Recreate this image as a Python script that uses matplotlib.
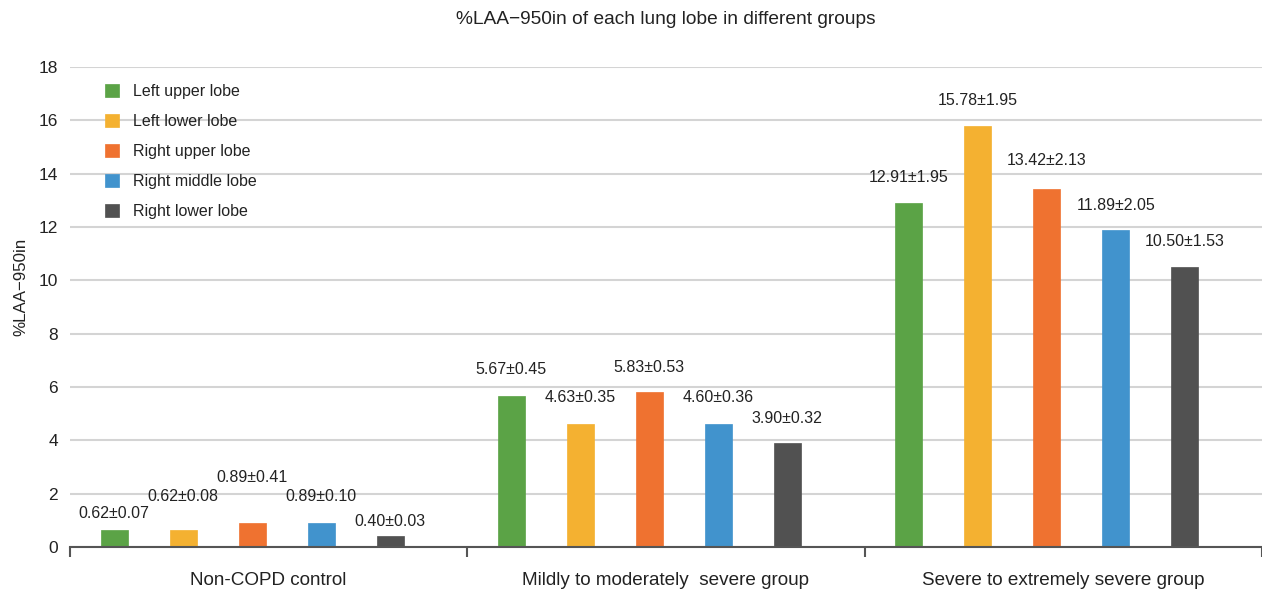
import matplotlib
matplotlib.use("Agg")
import matplotlib.pyplot as plt
import numpy as np

plt.rcParams['font.family'] = ['Liberation Sans', 'DejaVu Sans']

groups = ["Non-COPD control", "Mildly to moderately  severe group", "Severe to extremely severe group"]
lobes = ["Left upper lobe", "Left lower lobe", "Right upper lobe", "Right middle lobe", "Right lower lobe"]
colors = ["#5ba346", "#f4b131", "#ef7230", "#4193cd", "#515151"]

means = {
    "Left upper lobe":   [0.62, 5.67, 12.91],
    "Left lower lobe":   [0.62, 4.63, 15.78],
    "Right upper lobe":  [0.89, 5.83, 13.42],
    "Right middle lobe": [0.89, 4.60, 11.89],
    "Right lower lobe":  [0.40, 3.90, 10.50],
}
sds = {
    "Left upper lobe":   [0.07, 0.45, 1.95],
    "Left lower lobe":   [0.08, 0.35, 1.95],
    "Right upper lobe":  [0.41, 0.53, 2.13],
    "Right middle lobe": [0.10, 0.36, 2.05],
    "Right lower lobe":  [0.03, 0.32, 1.53],
}
# label vertical placement (data units, as in the reference)
label_y = {
    "Left upper lobe":   [1.27, 6.67, 13.86],
    "Left lower lobe":   [1.91, 5.59, 16.74],
    "Right upper lobe":  [2.62, 6.73, 14.49],
    "Right middle lobe": [1.91, 5.59, 12.80],
    "Right lower lobe":  [0.97, 4.82, 11.47],
}
yticks = [0, 2, 4, 6, 8, 10, 12, 14, 16, 18]

W, H = 1262, 592
fig = plt.figure(figsize=(W / 100, H / 100), dpi=100)
ax = fig.add_axes([70 / W, (H - 547) / H, (1262 - 70) / W, (547 - 67) / H])

first = 44 / 397.3
step = 69 / 397.3
bw = 27 / 397.3

for j, lobe in enumerate(lobes):
    xs = np.arange(len(groups)) + first + j * step
    ax.bar(xs, means[lobe], width=bw, color=colors[j], label=lobe, zorder=3,
           edgecolor=colors[j], linewidth=0.5)
    for x, m, s, ly in zip(xs, means[lobe], sds[lobe], label_y[lobe]):
        ax.text(x, ly, f"{m:.2f}±{s:.2f}", ha="center", va="center",
                fontsize=11.5, color="#222222", zorder=4)

ax.set_xlim(0, 3)
ax.set_ylim(0, 18)
ax.set_yticks(yticks)
ax.yaxis.grid(True, color="#d4d4d4", linewidth=1.5, zorder=0)
ax.set_axisbelow(True)
for s in ["left", "right", "top"]:
    ax.spines[s].set_visible(False)
ax.spines["bottom"].set_color("#555555")
ax.spines["bottom"].set_linewidth(1.5)
ax.spines["bottom"].set_zorder(5)

ax.tick_params(axis="y", length=0, pad=8.6, labelsize=12.5, labelcolor="#222222")
ax.set_xticks([0, 1, 2, 3])
ax.set_xticklabels([])
ax.tick_params(axis="x", which="major", length=7, width=1.5, color="#555555")
ax.set_xticks([0.5, 1.5, 2.5], minor=True)
ax.set_xticklabels(groups, minor=True)
ax.tick_params(axis="x", which="minor", length=0, pad=18, labelsize=13.6, labelcolor="#222222")

ax.set_ylabel("%LAA\u2212950in", fontsize=12.2, color="#222222")
ax.yaxis.set_label_coords(-42 / 1192, (547 - 287) / 480)
fig.text((70 + 1262) / 2 / W, 1 - 19 / H, "%LAA\u2212950in of each lung lobe in different groups",
         ha="center", va="center", fontsize=13.8, color="#222222")

leg = ax.legend(loc="upper left", bbox_to_anchor=(35 / 1192, (547 - 84) / 480), frameon=False,
                fontsize=11.5, handlelength=0.875, handleheight=0.875, handletextpad=0.875,
                labelspacing=0.94, borderpad=0, borderaxespad=0)
for t in leg.get_texts():
    t.set_color("#222222")

fig.savefig("out.png", dpi=100)
